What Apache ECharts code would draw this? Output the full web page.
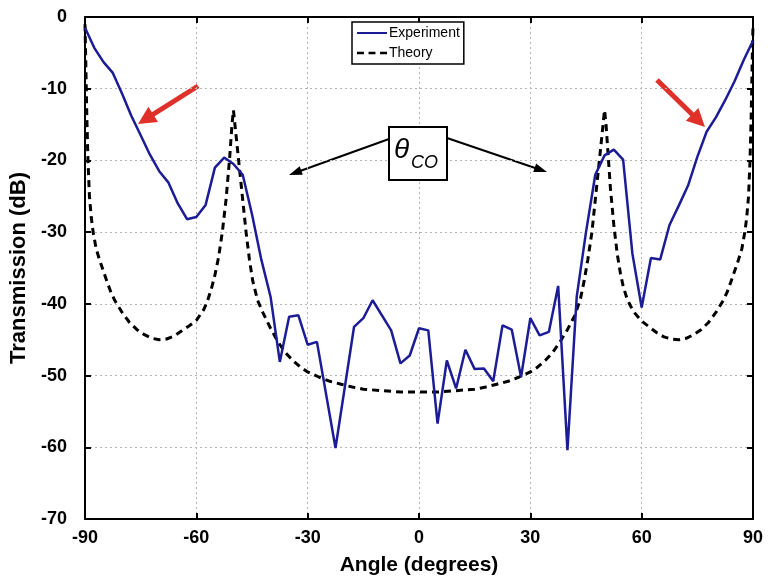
<!DOCTYPE html>
<html>
<head>
<meta charset="utf-8">
<script src="https://cdn.jsdelivr.net/npm/echarts@6/dist/echarts.min.js"></script>
<style>html,body{margin:0;padding:0;background:#fff;}#c{width:769px;height:581px;}</style>
</head>
<body>
<div id="c"></div>
<script>
// ---- data ----
var xTicks = [-90, -60, -30, 0, 30, 60, 90];
var yTicks = [0, -10, -20, -30, -40, -50, -60, -70];

var expAngle = [-90,-87.5,-85,-82.5,-80,-77.5,-75,-72.5,-70,-67.5,-65,-62.5,-60,-57.5,-55,-52.5,-50,-47.5,-45,-42.5,-40,-37.5,-35,-32.5,-30,-27.5,-22.5,-17.5,-15,-12.5,-7.5,-5,-2.5,0,2.5,5,7.5,10,12.5,15,17.5,20,22.5,25,27.5,30,32.5,35,37.5,40,42.5,45,47.5,50,52.5,55,57.5,60,62.5,65,67.5,70,72.5,75,77.5,80,82.5,85,87.5,90];
var expDb = [-1.5,-4.3,-6.3,-7.8,-10.7,-13.8,-16.5,-19.2,-21.5,-23.1,-26,-28.2,-27.9,-26.2,-21,-19.6,-20.5,-22,-27.5,-33.8,-39,-48.1,-41.8,-41.6,-45.7,-45.3,-60.1,-43.2,-42,-39.5,-43.7,-48.3,-47.2,-43.4,-43.7,-56.7,-47.9,-51.8,-46.4,-49.1,-49,-50.8,-43,-43.6,-50.2,-42,-44.4,-43.9,-37.5,-60.4,-39,-30,-22,-19.3,-18.5,-19.9,-33,-40.5,-33.6,-33.8,-29,-26.3,-23.5,-19.5,-16,-14,-11.6,-9,-6,-3.3];

var thAngle = [-90,-89.8,-89.5,-89.2,-88.8,-88.3,-87.8,-87,-86,-85,-84,-83,-82,-80,-78,-76,-74,-72,-70,-68,-66,-64,-62,-60,-58,-57,-56,-55,-54,-53,-52,-51,-50.4,-50,-49.6,-49,-48.4,-47.5,-46.6,-45.7,-44.8,-43.5,-42,-40,-38,-36,-34,-32,-30,-27,-24,-21,-18,-15,-10,-5,0,5,10,15,18,21,24,27,30,32,34,36,38,40,42,43.5,44.5,45.5,46.6,47.5,48.4,49,49.6,50,50.4,51,51.6,52.5,53.4,54.3,55,56,57,58,60,62,64,66,68,70,72,74,76,78,80,82,83,84,85,86,87,87.8,88.3,88.8,89.2,89.5,89.8,90];
var thDb = [-1,-6,-14,-20,-25,-28,-30,-32.3,-34,-35.5,-37,-38.4,-39.5,-41.2,-42.6,-43.6,-44.3,-44.8,-45,-44.9,-44.5,-43.8,-43.1,-42.3,-40.8,-39.6,-38,-36,-33.5,-30,-25.5,-19.5,-15,-13,-15,-18,-21,-25.5,-30,-33.8,-36.8,-39.5,-41.3,-43.4,-45.3,-46.8,-47.9,-48.8,-49.5,-50.2,-50.8,-51.2,-51.6,-51.9,-52.1,-52.3,-52.3,-52.3,-52.1,-51.9,-51.6,-51.2,-50.8,-50.2,-49.5,-48.8,-47.9,-46.8,-45.3,-43.6,-41.6,-39.3,-36.8,-33.8,-30,-25.5,-21,-18,-15,-13,-15,-19.5,-24,-29,-33,-35.8,-37.5,-39.2,-40.3,-41.2,-42.4,-43.2,-44,-44.6,-44.9,-45,-44.8,-44.3,-43.6,-42.6,-41.2,-39.5,-38.4,-37,-35.5,-34,-32.3,-30,-28,-25,-20,-14,-6,-1];

function pairs(xs, ys) { return xs.map(function (x, i) { return [x, ys[i]]; }); }

var FONT = '"Liberation Sans", Arial, sans-serif';
var chart = echarts.init(document.getElementById('c'), null, { renderer: 'canvas' });

function arrow(x1, y1, x2, y2, color, w, hl, hw) {
  var dx = x2 - x1, dy = y2 - y1, L = Math.sqrt(dx * dx + dy * dy);
  var ux = dx / L, uy = dy / L, px = -uy, py = ux;
  var bx = x2 - ux * hl, by = y2 - uy * hl;
  return {
    type: 'group', z: 100,
    children: [
      { type: 'line', shape: { x1: x1, y1: y1, x2: bx + ux * 2, y2: by + uy * 2 }, style: { stroke: color, lineWidth: w } },
      { type: 'polygon', shape: { points: [[x2, y2], [bx + px * hw, by + py * hw], [bx - px * hw, by - py * hw]] }, style: { fill: color } }
    ]
  };
}

var axisCommon = {
  axisLine: { show: true, onZero: false, lineStyle: { color: '#000', width: 2 } },
  axisTick: { show: true, inside: true, length: 6, lineStyle: { color: '#000', width: 2 } }
};

var option = {
  backgroundColor: '#fff',
  animation: false,
  grid: { left: 85, right: 16, top: 17, bottom: 60, containLabel: false },
  legend: {
    left: 352, top: 22, orient: 'vertical',
    backgroundColor: '#fff', borderColor: '#000', borderWidth: 1.5, borderRadius: 0,
    padding: [4, 4, 4, 5], itemGap: 6, itemWidth: 30, itemHeight: 14,
    textStyle: { fontFamily: FONT, fontSize: 14, color: '#000', padding: [0, 0, 0, -3] },
    data: [
      { name: 'Experiment', icon: 'path://M0,6 L30,6 L30,8 L0,8 Z', itemStyle: { color: '#1c1c96' } },
      { name: 'Theory', icon: 'path://M0,6 L6,6 L6,8 L0,8 Z M10,6 L16,6 L16,8 L10,8 Z M20,6 L26,6 L26,8 L20,8 Z', itemStyle: { color: '#000' } }
    ]
  },
  xAxis: [
    Object.assign({
      type: 'value', min: -90, max: 90, interval: 30, position: 'bottom',
      name: 'Angle (degrees)', nameLocation: 'middle', nameGap: 36,
      nameTextStyle: { fontFamily: FONT, fontSize: 21, fontWeight: 'bold', color: '#000' },
      axisLabel: { margin: 10, fontFamily: FONT, fontSize: 18, fontWeight: 'bold', color: '#000',
        formatter: function (v) { return xTicks.indexOf(v) >= 0 ? String(v) : ''; } },
      splitLine: { show: true, lineStyle: { color: '#b4b4b4', type: [2, 3], width: 1 } }
    }, axisCommon),
    Object.assign({
      type: 'value', min: -90, max: 90, interval: 30, position: 'top',
      axisLabel: { show: false }, splitLine: { show: false }
    }, axisCommon)
  ],
  yAxis: [
    Object.assign({
      type: 'value', min: -70, max: 0, interval: 10, position: 'left',
      name: 'Transmission (dB)', nameLocation: 'middle', nameGap: 51, nameRotate: 90,
      nameTextStyle: { fontFamily: FONT, fontSize: 22, fontWeight: 'bold', color: '#000' },
      axisLabel: { margin: 18, fontFamily: FONT, fontSize: 18, fontWeight: 'bold', color: '#000',
        formatter: function (v) { return yTicks.indexOf(v) >= 0 ? String(v) : ''; } },
      splitLine: { show: true, lineStyle: { color: '#b4b4b4', type: [2, 3], width: 1 } }
    }, axisCommon),
    Object.assign({
      type: 'value', min: -70, max: 0, interval: 10, position: 'right',
      axisLabel: { show: false }, splitLine: { show: false }
    }, axisCommon)
  ],
  series: [
    {
      name: 'Theory', type: 'line', data: pairs(thAngle, thDb), showSymbol: false, symbol: 'none',
      lineStyle: { color: '#000', width: 3, type: [7, 5] }, itemStyle: { color: '#000' }, z: 3
    },
    {
      name: 'Experiment', type: 'line', data: pairs(expAngle, expDb), showSymbol: false, symbol: 'none',
      lineStyle: { color: '#1c1c96', width: 2.5 }, itemStyle: { color: '#1c1c96' }, z: 4
    }
  ],
  graphic: [
    arrow(389, 139, 289, 175, '#000', 2, 13, 4.5),
    arrow(447, 138, 547, 172, '#000', 2, 13, 4.5),
    {
      type: 'rect', z: 100, shape: { x: 389, y: 127, width: 58, height: 53 },
      style: { fill: '#fff', stroke: '#000', lineWidth: 2 }
    },
    {
      type: 'text', z: 101, left: 394, top: 136,
      style: { text: 'θ', font: 'italic 28px ' + FONT, fill: '#000' }
    },
    {
      type: 'text', z: 101, left: 411, top: 154,
      style: { text: 'CO', font: 'italic 18px ' + FONT, fill: '#000' }
    },
    arrow(198, 86, 138, 124, '#e0302a', 5, 18, 9),
    arrow(657, 80, 705, 127, '#e0302a', 5, 18, 9)
  ]
};
chart.setOption(option);
</script>
</body>
</html>
